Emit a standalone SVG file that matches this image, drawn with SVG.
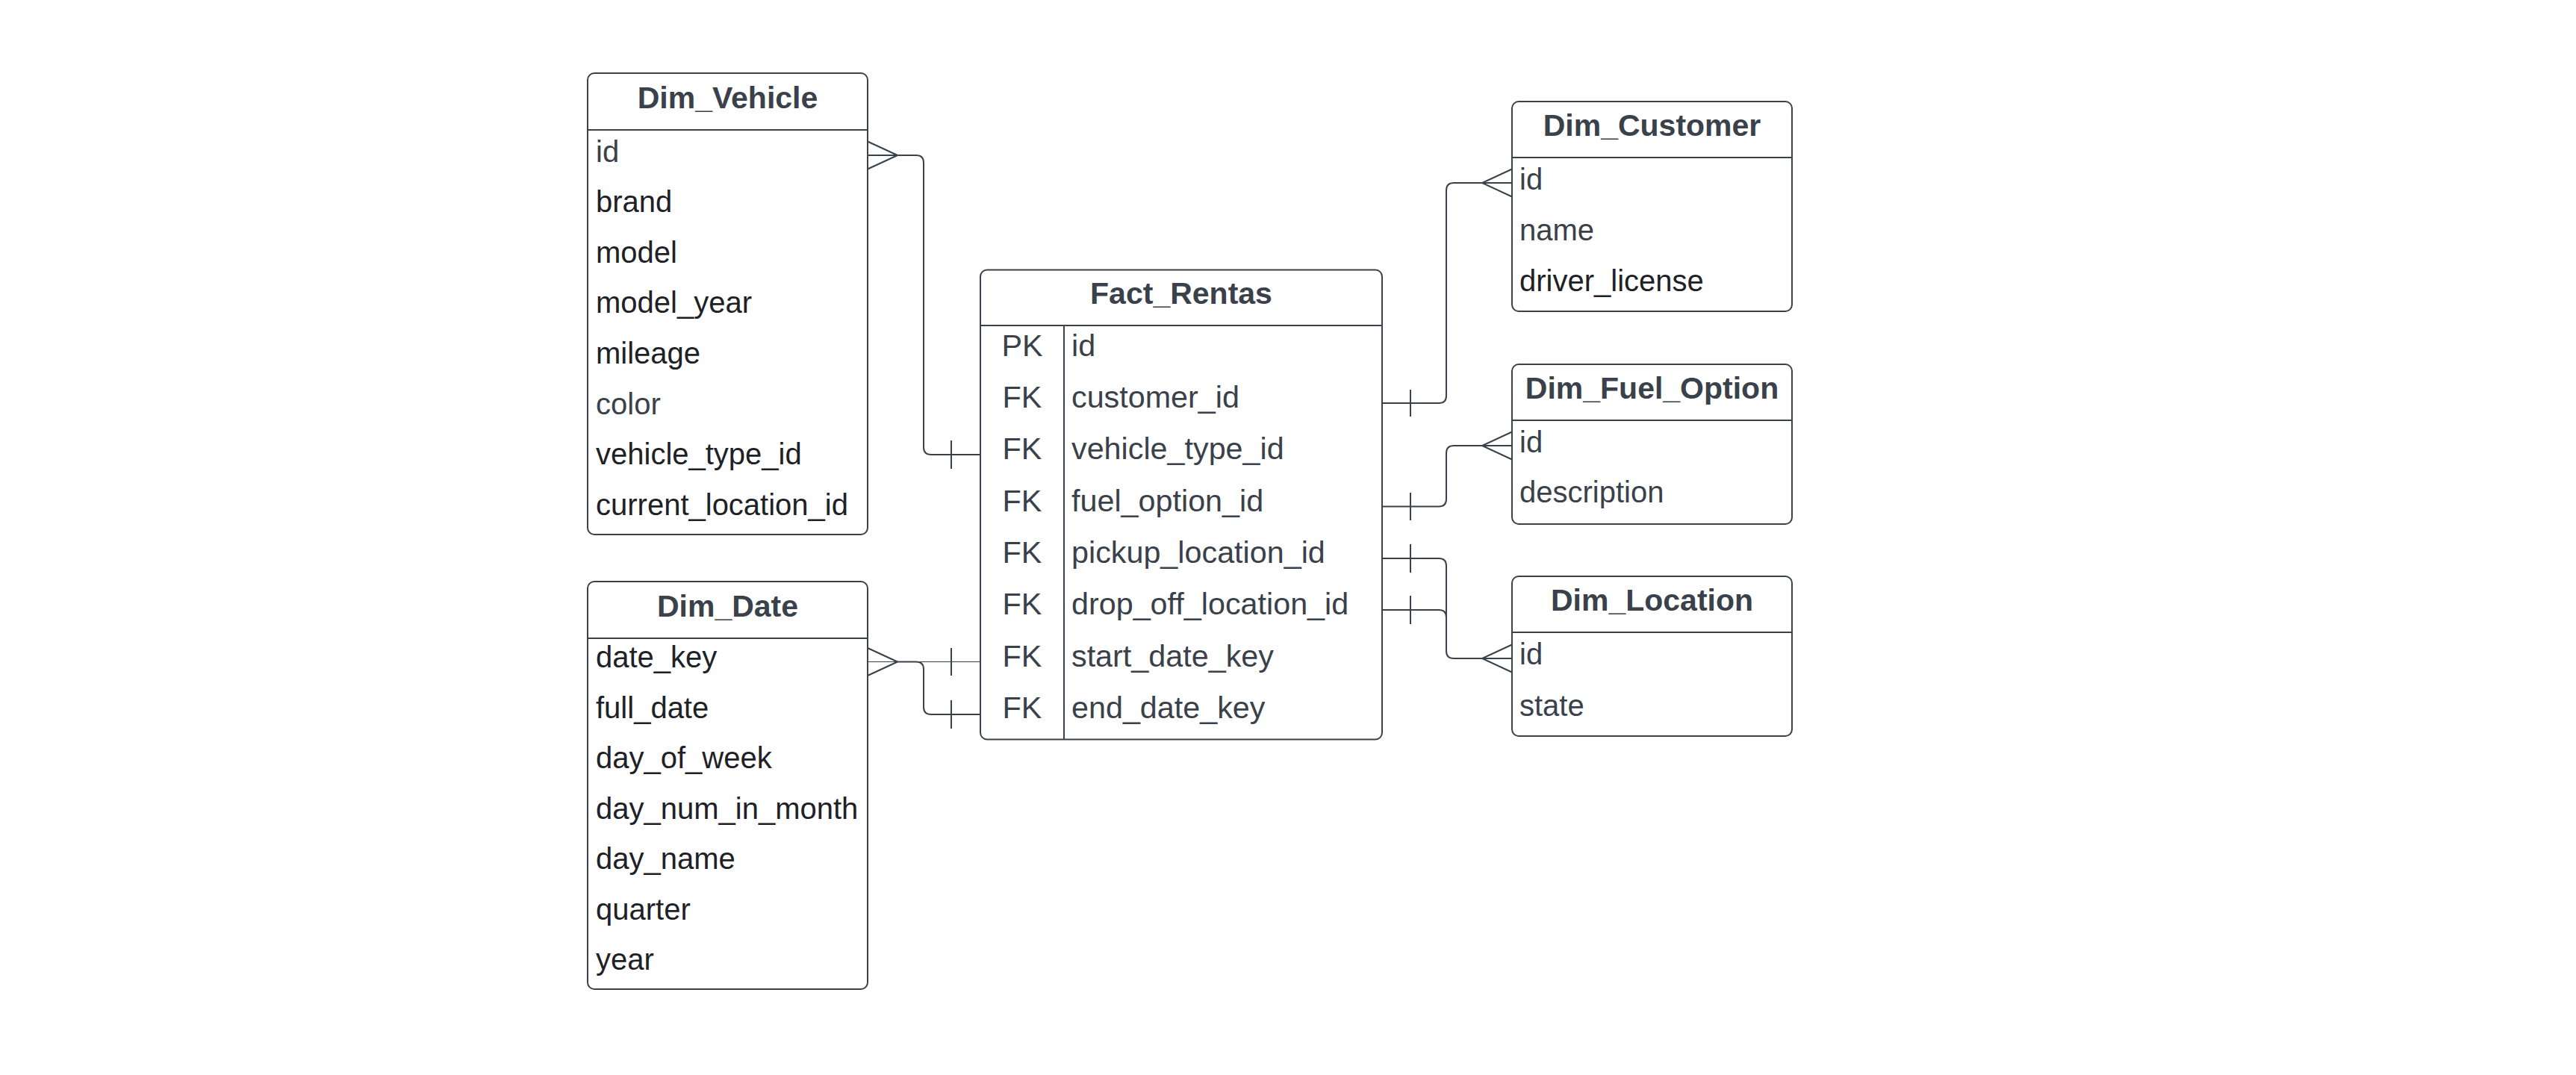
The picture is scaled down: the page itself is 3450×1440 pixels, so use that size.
<svg xmlns="http://www.w3.org/2000/svg" width="3450" height="1440" viewBox="0 0 3450 1440">
<style>
.box{fill:#ffffff;stroke:#3a414a;stroke-width:2}
.sep{stroke:#3a414a;stroke-width:2;fill:none}
.ttl{font-family:"Liberation Sans",Arial,sans-serif;font-size:41px;font-weight:bold;fill:#3a414a;text-anchor:middle}
.f{font-family:"Liberation Sans",Arial,sans-serif;font-size:40px;fill:#3a414a}
.d{fill:#1e2126}
.ff{font-family:"Liberation Sans",Arial,sans-serif;font-size:41.3px;fill:#3a414a}
.k{text-anchor:middle}
.ln{stroke:#3a414a;stroke-width:2;fill:none}
.thin{stroke:#3a414a;stroke-width:1.2;fill:none}
</style>
<rect width="3450" height="1440" fill="#ffffff"/>

<g id="connectors">
  <!-- Dim_Vehicle.id to Fact_Rentas.vehicle_type_id -->
  <path class="ln" d="M1162 189.5 L1202 208 M1162 208 H1202 M1162 226.5 L1202 208"/>
  <path class="ln" d="M1202 208 H1227 Q1237 208 1237 218 V599 Q1237 609 1247 609 H1313"/>
  <path class="ln" d="M1274 590 V628"/>
  <!-- Dim_Date.date_key to Fact_Rentas.start_date_key / end_date_key -->
  <path class="ln" d="M1162 868 L1202 886.5 M1162 905 L1202 886.5"/>
  <path class="thin" d="M1162 886.5 H1313"/>
  <path class="ln" d="M1274 868 V905"/>
  <path class="ln" d="M1202 886.5 H1227 Q1237 886.5 1237 896.5 V947 Q1237 957 1247 957 H1313"/>
  <path class="ln" d="M1274 938 V976"/>
  <!-- Fact_Rentas.customer_id to Dim_Customer.id -->
  <path class="ln" d="M1851 540 H1927 Q1937 540 1937 530 V255 Q1937 245 1947 245 H2025"/>
  <path class="ln" d="M1889 522 V558"/>
  <path class="ln" d="M2025 226.5 L1985 245 L2025 263.5"/>
  <!-- Fact_Rentas.fuel_option_id to Dim_Fuel_Option.id -->
  <path class="ln" d="M1851 678.5 H1927 Q1937 678.5 1937 668.5 V607 Q1937 597 1947 597 H2025"/>
  <path class="ln" d="M1889 660 V697"/>
  <path class="ln" d="M2025 578.5 L1985 597 L2025 615.5"/>
  <!-- Fact_Rentas.pickup_location_id / drop_off_location_id to Dim_Location.id -->
  <path class="ln" d="M1851 748 H1927 Q1937 748 1937 758 V872 Q1937 882 1947 882 H2025"/>
  <path class="ln" d="M1889 729 V767"/>
  <path class="ln" d="M1851 817 H1927 Q1937 817 1937 827 V872"/>
  <path class="ln" d="M1889 798 V836"/>
  <path class="ln" d="M2025 863.5 L1985 882 L2025 900.5"/>
</g>

<g id="Dim_Vehicle">
  <rect class="box" x="787" y="98" width="375" height="618" rx="9"/>
  <line class="sep" x1="787" y1="174" x2="1162" y2="174"/>
  <text class="ttl" x="974.5" y="145">Dim_Vehicle</text>
  <text class="f" x="798" y="216.5">id</text>
  <text class="f d" x="798" y="284">brand</text>
  <text class="f d" x="798" y="351.5">model</text>
  <text class="f d" x="798" y="419">model_year</text>
  <text class="f d" x="798" y="487">mileage</text>
  <text class="f" x="798" y="554.5">color</text>
  <text class="f d" x="798" y="622">vehicle_type_id</text>
  <text class="f d" x="798" y="690">current_location_id</text>
</g>

<g id="Dim_Date">
  <rect class="box" x="787" y="779" width="375" height="546" rx="9"/>
  <line class="sep" x1="787" y1="855" x2="1162" y2="855"/>
  <text class="ttl" x="974.5" y="826">Dim_Date</text>
  <text class="f d" x="798" y="894">date_key</text>
  <text class="f d" x="798" y="961.5">full_date</text>
  <text class="f d" x="798" y="1029">day_of_week</text>
  <text class="f d" x="798" y="1096.5">day_num_in_month</text>
  <text class="f d" x="798" y="1164">day_name</text>
  <text class="f d" x="798" y="1231.5">quarter</text>
  <text class="f d" x="798" y="1298.5">year</text>
</g>

<g id="Fact_Rentas">
  <rect class="box" x="1313" y="361.5" width="538" height="629" rx="9"/>
  <line class="sep" x1="1313" y1="436" x2="1851" y2="436"/>
  <line class="sep" x1="1425" y1="436" x2="1425" y2="990.5"/>
  <text class="ttl" x="1582" y="407">Fact_Rentas</text>
  <text class="ff k" x="1369" y="476.5">PK</text>
  <text class="ff k" x="1369" y="546">FK</text>
  <text class="ff k" x="1369" y="615">FK</text>
  <text class="ff k" x="1369" y="684.5">FK</text>
  <text class="ff k" x="1369" y="754">FK</text>
  <text class="ff k" x="1369" y="823">FK</text>
  <text class="ff k" x="1369" y="892.5">FK</text>
  <text class="ff k" x="1369" y="961.5">FK</text>
  <text class="ff" x="1435" y="476.5">id</text>
  <text class="ff" x="1435" y="546">customer_id</text>
  <text class="ff" x="1435" y="615">vehicle_type_id</text>
  <text class="ff" x="1435" y="684.5">fuel_option_id</text>
  <text class="ff" x="1435" y="754">pickup_location_id</text>
  <text class="ff" x="1435" y="823">drop_off_location_id</text>
  <text class="ff" x="1435" y="892.5">start_date_key</text>
  <text class="ff" x="1435" y="961.5">end_date_key</text>
</g>

<g id="Dim_Customer">
  <rect class="box" x="2025" y="136" width="375" height="281" rx="9"/>
  <line class="sep" x1="2025" y1="211" x2="2400" y2="211"/>
  <text class="ttl" x="2212.5" y="182">Dim_Customer</text>
  <text class="f" x="2035" y="254">id</text>
  <text class="f" x="2035" y="322">name</text>
  <text class="f d" x="2035" y="389.5">driver_license</text>
</g>

<g id="Dim_Fuel_Option">
  <rect class="box" x="2025" y="488" width="375" height="214" rx="9"/>
  <line class="sep" x1="2025" y1="563" x2="2400" y2="563"/>
  <text class="ttl" x="2212.5" y="534">Dim_Fuel_Option</text>
  <text class="f" x="2035" y="605.5">id</text>
  <text class="f" x="2035" y="673">description</text>
</g>

<g id="Dim_Location">
  <rect class="box" x="2025" y="772" width="375" height="214" rx="9"/>
  <line class="sep" x1="2025" y1="847" x2="2400" y2="847"/>
  <text class="ttl" x="2212.5" y="818">Dim_Location</text>
  <text class="f" x="2035" y="890">id</text>
  <text class="f" x="2035" y="958.5">state</text>
</g>
</svg>
